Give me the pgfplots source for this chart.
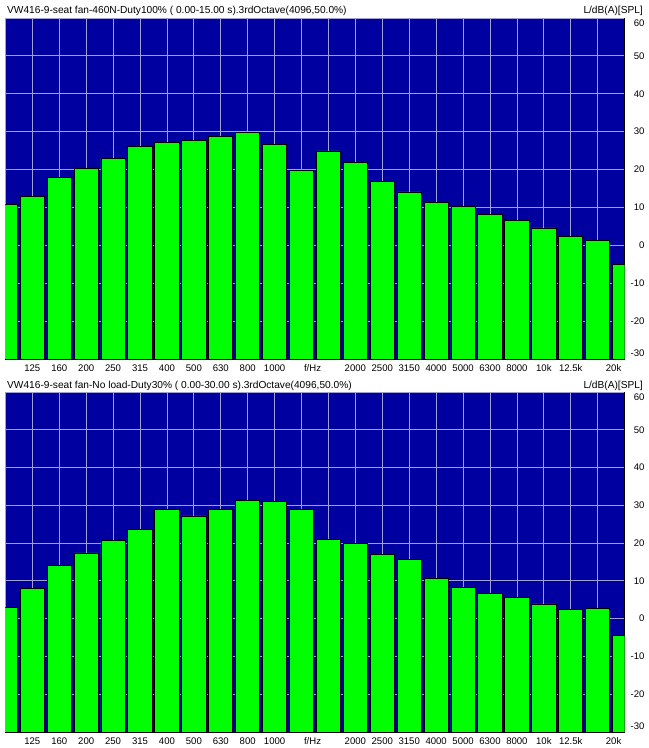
\documentclass[border=0pt]{standalone}
\usepackage{pgfplots}
\pgfplotsset{compat=1.18}
\usepackage{pgfplotstable}
\usepackage{fontspec}
\setmainfont{Liberation Sans}
\definecolor{plotblue}{RGB}{0,0,160}
\definecolor{gridc}{RGB}{160,160,216}
\definecolor{bargreen}{RGB}{0,255,0}

\pgfplotstableread{
idx freq L
0 100 10.8
1 125 12.9
2 160 18.0
3 200 20.4
4 250 23.0
5 315 26.1
6 400 27.1
7 500 27.6
8 630 28.7
9 800 29.8
10 1000 26.7
11 1250 19.7
12 1600 24.9
13 2000 21.8
14 2500 16.8
15 3150 14.1
16 4000 11.4
17 5000 10.2
18 6300 8.1
19 8000 6.6
20 10000 4.6
21 12500 2.4
22 16000 1.3
23 20000 -5.1
}\topdata

\pgfplotstableread{
idx freq L
0 100 2.9
1 125 8.1
2 160 14.0
3 200 17.4
4 250 20.6
5 315 23.7
6 400 28.8
7 500 27.2
8 630 28.8
9 800 31.3
10 1000 31.1
11 1250 28.8
12 1600 20.9
13 2000 19.9
14 2500 17.0
15 3150 15.7
16 4000 10.7
17 5000 8.2
18 6300 6.7
19 8000 5.7
20 10000 3.9
21 12500 2.4
22 16000 2.6
23 20000 -4.5
}\botdata

\pgfplotsset{
  spec/.style={
    scale only axis,
    width=619.2bp,
    anchor=south west,
    xmin=0, xmax=23,
    ymin=0, ymax=90,
    axis background/.style={fill=plotblue},
    xtick={0,...,23},
    xticklabels={,125,160,200,250,315,400,500,630,800,1000,\hspace*{22bp}f/Hz,,2000,2500,3150,4000,5000,6300,8000,10k,12.5k,,20k\hspace*{22bp}},
    ytick={0,10,...,90},
    yticklabels={\raisebox{2.75bp}[0pt][0pt]{-30},-20,-10,0,10,20,30,40,50,\raisebox{-8.25bp}[0pt][0pt]{60}},
    yticklabel pos=right,
    xmajorgrids, ymajorgrids,
    major grid style={draw=gridc, line width=0.8bp},
    major tick length=0pt,
    tick style={draw=none},
    axis line style={draw=black, line width=0.6bp},
    axis x line*=bottom,
    axis y line*=right,
    every axis y line/.append style={draw=none},
    xticklabel style={font=\fontsize{9.6}{10}\selectfont, inner sep=0pt, yshift=-5bp, text height=7.2bp, text depth=0pt},
    yticklabel style={font=\fontsize{9.6}{10}\selectfont, anchor=east, inner sep=0pt, xshift=20bp},
  },
  bars/.style={ybar, bar width=0.9, bar shift=0pt, fill=bargreen, draw=black, line width=0.8bp},
}

\begin{document}
\begin{tikzpicture}
\useasboundingbox (0,0) rectangle (649bp,748bp);
\begin{axis}[spec, at={(5.4bp,389bp)}, height=341bp]
\addplot[bars] table[x=idx, y expr=\thisrow{L}+30] {\topdata};
\end{axis}
\begin{axis}[spec, at={(5.4bp,16bp)}, height=340bp]
\addplot[bars] table[x=idx, y expr=\thisrow{L}+30] {\botdata};
\end{axis}
\node[anchor=base west, font=\fontsize{10.2}{11}\selectfont, inner sep=0pt] at (7bp,734bp) {VW416-9-seat fan-460N-Duty100\% ( 0.00-15.00 s).3rdOctave(4096,50.0\%)};
\node[anchor=base east, font=\fontsize{10.2}{11}\selectfont, inner sep=0pt] at (643bp,734bp) {L/dB(A)[SPL]};
\node[anchor=base west, font=\fontsize{10.2}{11}\selectfont, inner sep=0pt] at (7bp,359bp) {VW416-9-seat fan-No load-Duty30\% ( 0.00-30.00 s).3rdOctave(4096,50.0\%)};
\node[anchor=base east, font=\fontsize{10.2}{11}\selectfont, inner sep=0pt] at (643bp,359bp) {L/dB(A)[SPL]};
\end{tikzpicture}
\end{document}
